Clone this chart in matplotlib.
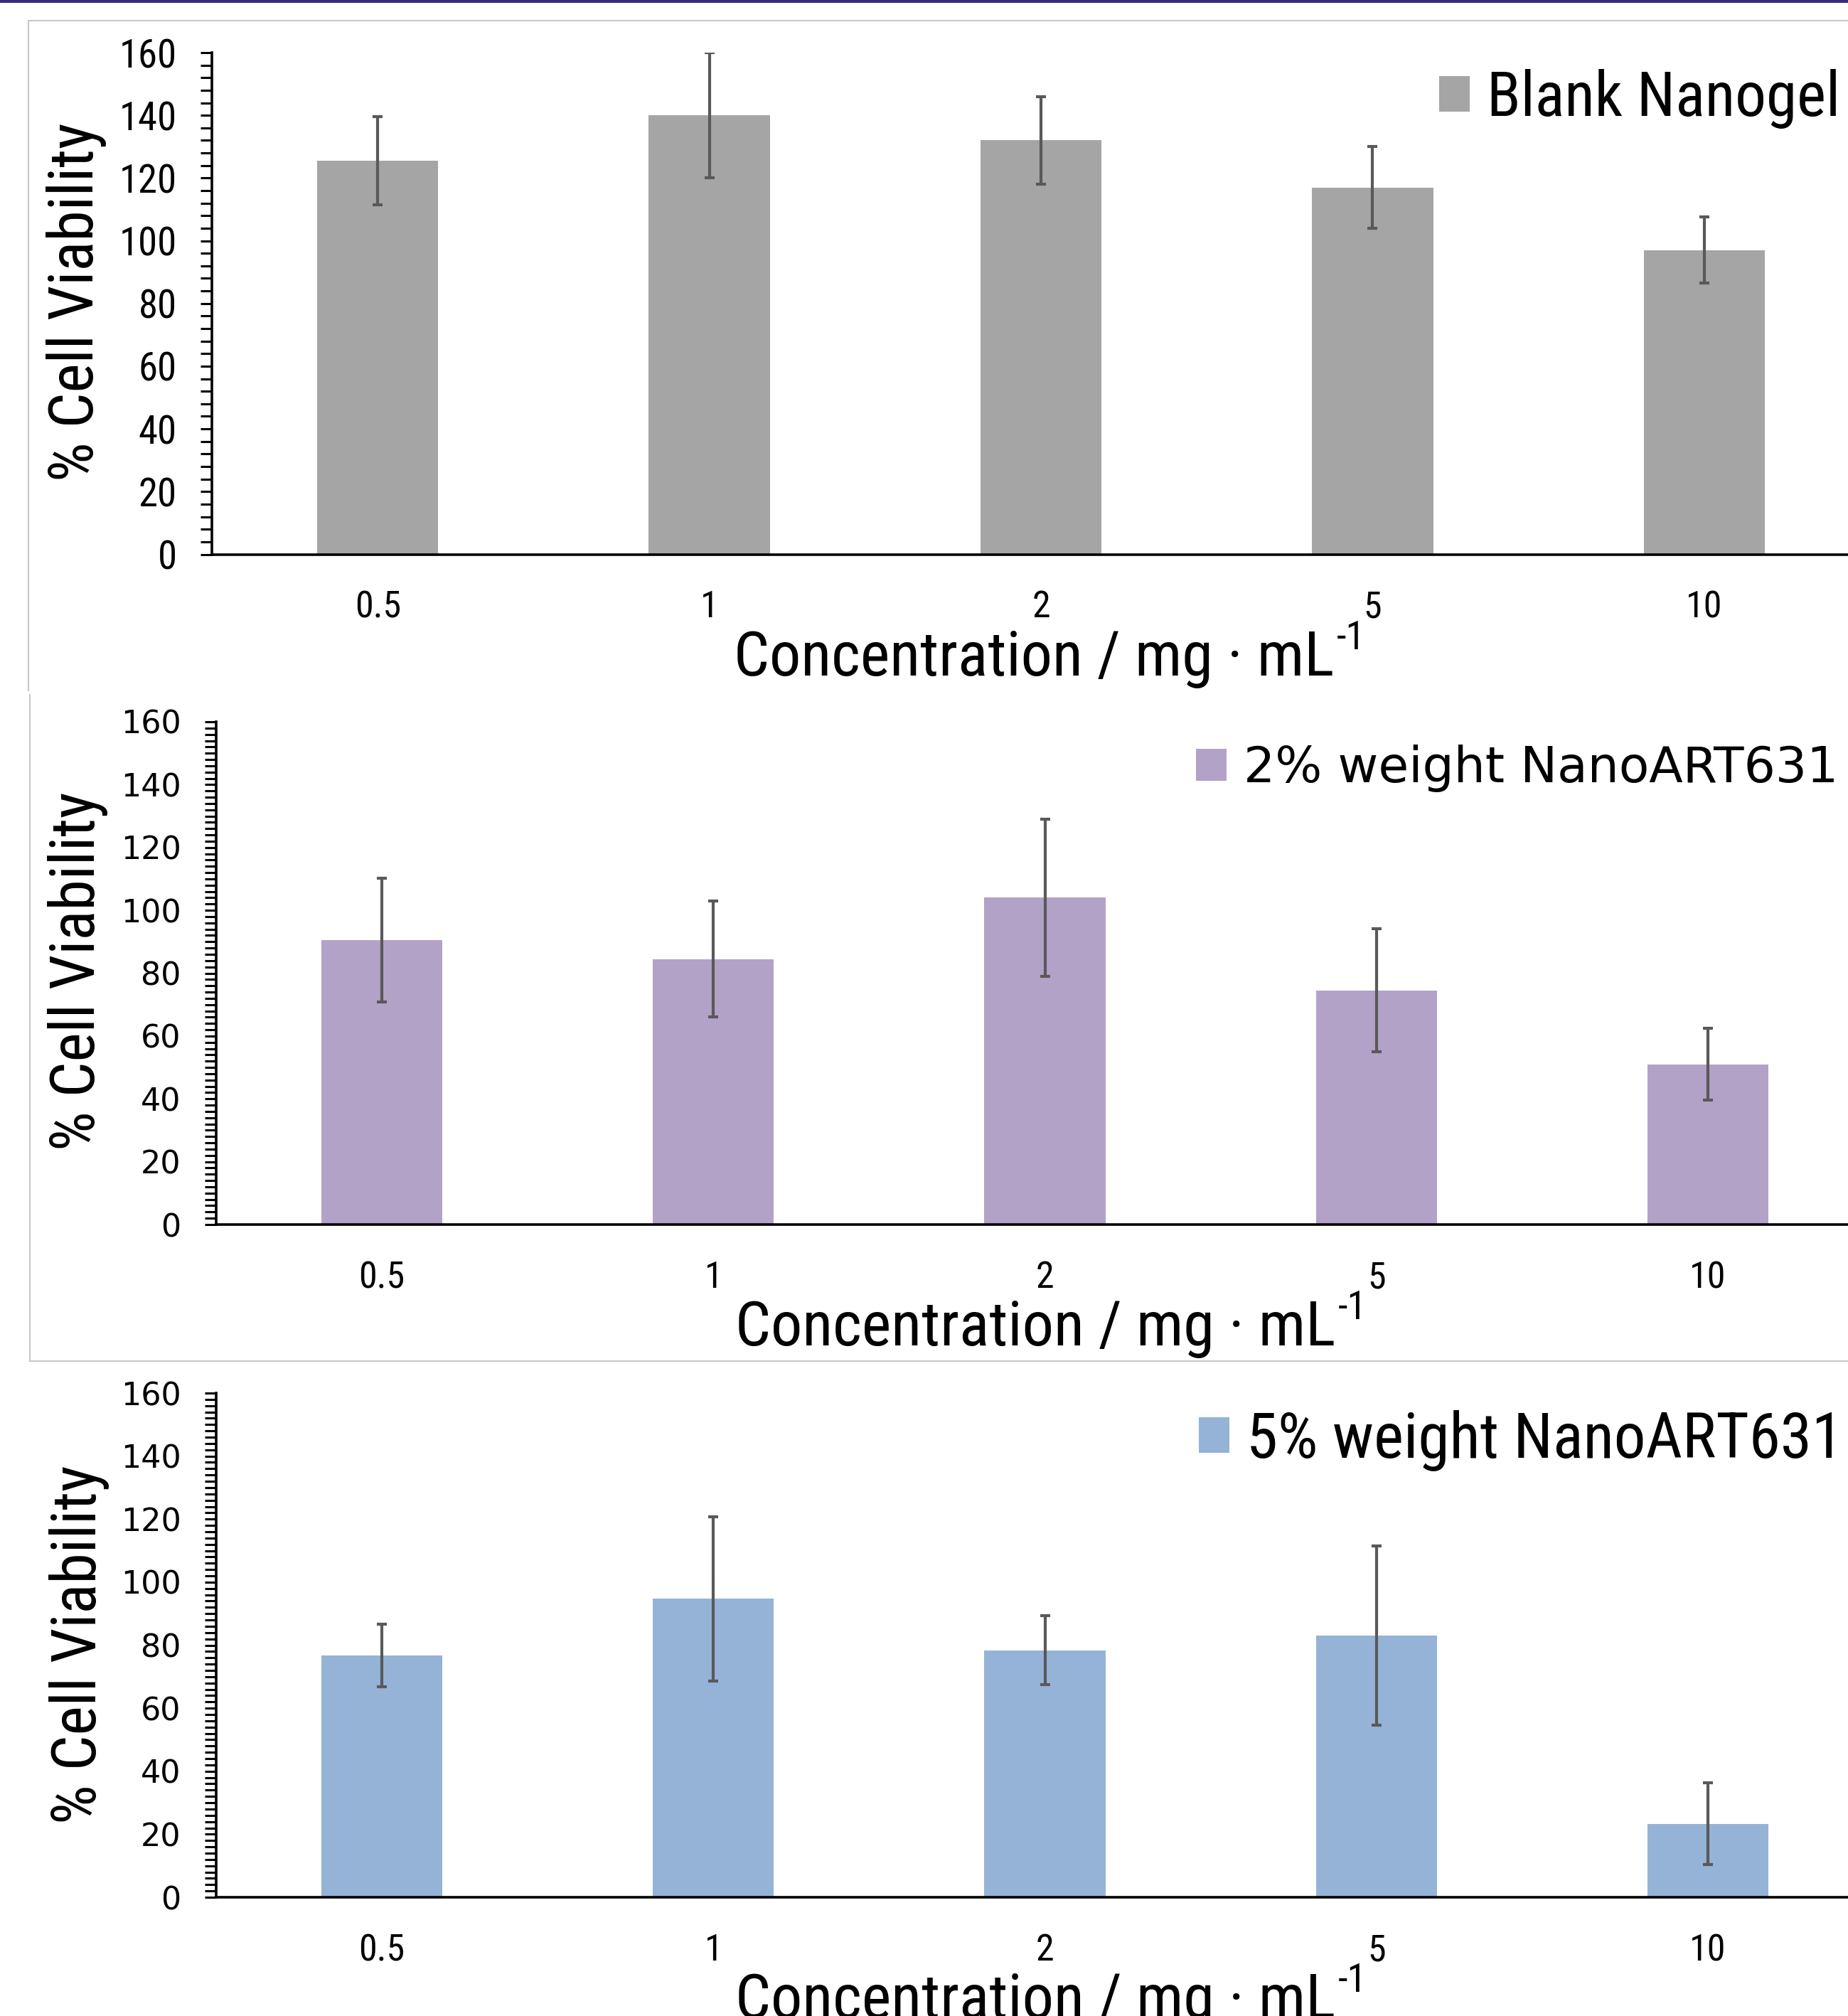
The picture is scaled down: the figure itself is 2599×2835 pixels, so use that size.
"""Cell viability of nanogel formulations"""

import matplotlib

matplotlib.use("Agg")
import matplotlib.pyplot as plt
from matplotlib import font_manager
from matplotlib.lines import Line2D
from matplotlib.patches import Rectangle
from matplotlib.ticker import MultipleLocator

concentrations = ["0.5", "1", "2", "5", "10"]

blank_mean = [125.5, 140.0, 132.0, 117.0, 97.0]
blank_err = [14.0, 20.0, 14.0, 13.0, 10.5]

art2_mean = [90.5, 84.5, 104.0, 74.5, 51.0]
art2_err = [19.6, 18.4, 25.0, 19.6, 11.5]

art5_mean = [76.7, 94.7, 78.4, 83.0, 23.3]
art5_err = [10.0, 26.0, 11.0, 28.4, 13.0]

series_labels = ["Blank Nanogel", "2% weight NanoART631", "5% weight NanoART631"]
bar_colors = ["#a5a5a5", "#b3a2c7", "#95b3d7"]

W, H = 2599, 2835

# a Calibri-like face if one is around, else the Arial-metric one
installed = {f.name for f in font_manager.fontManager.ttflist}
narrow_name = "Liberation Sans"
for name in ["Liberation Sans Narrow", "DejaVu Sans Condensed", "Roboto Condensed", "Lato"]:
    if name in installed:
        narrow_name = name
        break
NARROW = [narrow_name, "DejaVu Sans"]
WIDE = ["DejaVu Sans"]
PT = 100 / 72  # pixels per point


def fx(px):
    return px / W


def fy(py):
    return 1 - py / H


fig = plt.figure(figsize=(W / 100, H / 100), dpi=100)
renderer = fig.canvas.get_renderer()


def text_width(s, family, size):
    t = fig.text(0, 0, s, family=family, size=size)
    w = t.get_window_extent(renderer).width
    t.remove()
    return w


def fit(s, family, target_px, base=50):
    return base * target_px / text_width(s, family, base)


# panel frames and the thin purple rule at the very top
fig.add_artist(Rectangle((0, fy(4)), 1, 4 / H, transform=fig.transFigure,
                         color="#3b2a7c", lw=0))
frame = dict(transform=fig.transFigure, color="#c8c8c8", lw=1.5)
fig.add_artist(Line2D([fx(40), 1], [fy(29), fy(29)], **frame))
fig.add_artist(Line2D([fx(40), fx(40)], [fy(29), fy(971)], **frame))
fig.add_artist(Line2D([fx(42), fx(42)], [fy(977), fy(1914)], **frame))
fig.add_artist(Line2D([fx(42), 1], [fy(1914), fy(1914)], **frame))

xtick_size = fit("0.5", NARROW, 65)
ylab_size = fit("% Cell Viability", NARROW, 506)
xlab_main = "Concentration / mg · mL"
xlab_sup = "-1"
xlab_size = fit(xlab_main, NARROW, 845)
sup_size = xlab_size * 0.62
main_w = text_width(xlab_main, NARROW, xlab_size)
sup_w = text_width(xlab_sup, NARROW, sup_size)

panels = [
    dict(mean=blank_mean, err=blank_err, label=series_labels[0], color=bar_colors[0],
         box=(298, 74, 779.5, 2630), minor=4, yfont=NARROW,
         ysize=fit("160", NARROW, 81), leg=(2588, 139), legfont=NARROW,
         legsize=fit(series_labels[0], NARROW, 497), ylab=(108, 425), xlab=(1476, 950)),
    dict(mean=art2_mean, err=art2_err, label=series_labels[1], color=bar_colors[1],
         box=(304, 1015, 1722, 2635), minor=2, yfont=WIDE, ysize=32,
         leg=(2585, 1080), legfont=WIDE, legsize=50, ylab=(110, 1366), xlab=(1478, 1892)),
    dict(mean=art5_mean, err=art5_err, label=series_labels[2], color=bar_colors[2],
         box=(304, 1959, 2668, 2635), minor=2, yfont=NARROW, ysize=32,
         leg=(2592, 2026), legfont=NARROW,
         legsize=fit(series_labels[2], NARROW, 839), ylab=(112, 2313), xlab=(1478, 2838)),
]
panels[2]["yfont"] = WIDE

for p in panels:
    left, top, bottom, right = p["box"]
    ax = fig.add_axes([fx(left), fy(bottom), (right - left) / W, (bottom - top) / H])
    x = range(len(concentrations))
    ax.bar(x, p["mean"], width=0.365, color=p["color"], label=p["label"],
           yerr=p["err"], error_kw=dict(ecolor="#595959", elinewidth=3.0,
                                        capsize=5, capthick=3.0))
    ax.set_xlim(-0.5, len(concentrations) - 0.5)
    ax.set_ylim(0, 160)
    ax.set_xticks(list(x))
    ax.set_xticklabels(concentrations)
    ax.yaxis.set_major_locator(MultipleLocator(20))
    ax.yaxis.set_minor_locator(MultipleLocator(p["minor"]))
    for side in ["top", "right"]:
        ax.spines[side].set_visible(False)
    for side in ["left", "bottom"]:
        ax.spines[side].set_linewidth(2.6)
    ax.tick_params(axis="y", which="both", direction="out", length=11.5, width=2.2,
                   pad=24, labelsize=p["ysize"], labelfontfamily=p["yfont"])
    ax.tick_params(axis="x", length=0, pad=36, labelsize=xtick_size,
                   labelfontfamily=NARROW)

    fs_px = p["legsize"] * PT
    ax.legend(loc="center right", bbox_to_anchor=(fx(p["leg"][0]), fy(p["leg"][1])),
              bbox_transform=fig.transFigure, frameon=False,
              prop=dict(family=p["legfont"], size=p["legsize"]),
              handlelength=43 / fs_px, handleheight=43 / fs_px,
              handletextpad=24 / fs_px, borderpad=0, borderaxespad=0)

    fig.text(fx(p["ylab"][0]), fy(p["ylab"][1]), "% Cell Viability", rotation=90,
             ha="center", va="center", family=NARROW, size=ylab_size)

    # x label with a raised "-1"
    cx, base_y = p["xlab"]
    start = cx - (main_w + sup_w + 4) / 2
    fig.text(fx(start), fy(base_y), xlab_main, ha="left", va="baseline",
             family=NARROW, size=xlab_size)
    fig.text(fx(start + main_w + 4), fy(base_y - xlab_size * PT * 0.42), xlab_sup,
             ha="left", va="baseline", family=NARROW, size=sup_size)

fig.savefig("out.png", dpi=100)
plt.close(fig)
